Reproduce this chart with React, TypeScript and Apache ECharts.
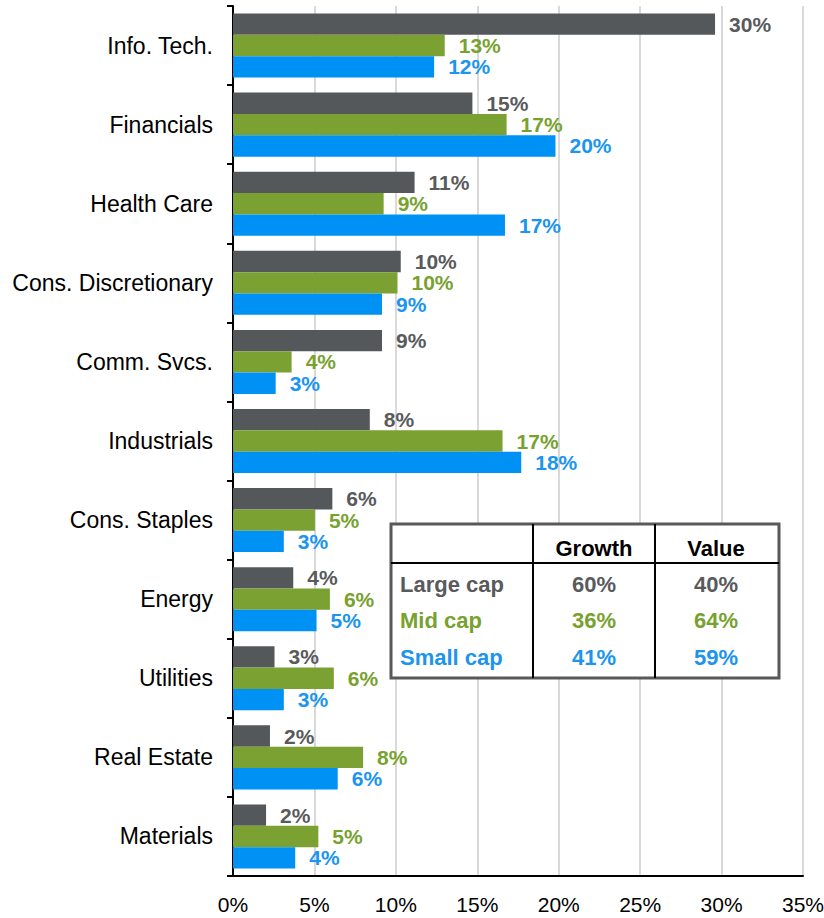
import React, { useEffect, useRef } from "react";
import * as echarts from "echarts";

const categories = [
  "Info. Tech.",
  "Financials",
  "Health Care",
  "Cons. Discretionary",
  "Comm. Svcs.",
  "Industrials",
  "Cons. Staples",
  "Energy",
  "Utilities",
  "Real Estate",
  "Materials",
];
const largeCap = [29.6, 14.7, 11.15, 10.3, 9.15, 8.4, 6.1, 3.7, 2.55, 2.27, 2.03];
const midCap = [13.0, 16.8, 9.25, 10.1, 3.6, 16.55, 5.03, 5.95, 6.19, 7.99, 5.24];
const smallCap = [12.35, 19.8, 16.7, 9.15, 2.62, 17.7, 3.12, 5.13, 3.12, 6.43, 3.82];
const xTicks = [0, 5, 10, 15, 20, 25, 30, 35];

const tableHeaders = ["Growth", "Value"];
const tableRows = ["Large cap", "Mid cap", "Small cap"];
const growthShare = ["60%", "36%", "41%"];
const valueShare = ["40%", "64%", "59%"];

const FONT = "'Liberation Sans', Arial, Helvetica, sans-serif";
const barColors = ["#55585B", "#7BA133", "#0091F5"];
const textColors = ["#595A5C", "#78A22F", "#1B95EE"];

export default function App() {
  const ref = useRef<HTMLDivElement>(null);
  useEffect(() => {
    if (!ref.current) return;
    const chart = echarts.init(ref.current, undefined, { renderer: "svg" });
    const seriesData = [largeCap, midCap, smallCap];
    const names = tableRows;

    const tableX = 391, tableY = 524, tableW = 388, tableH = 154;
    const col1 = 533, col2 = 655, headerLine = 563;
    const colCenters = [594, 716];
    const rowY0 = 584, rowStep = 36.5;

    const graphic: any[] = [
      {
        type: "rect",
        z: 100,
        shape: { x: tableX, y: tableY, width: tableW, height: tableH },
        style: { fill: "#ffffff", stroke: "#595959", lineWidth: 3 },
      },
      {
        type: "line",
        z: 101,
        shape: { x1: tableX, y1: headerLine, x2: tableX + tableW, y2: headerLine },
        style: { stroke: "#000", lineWidth: 2 },
      },
      {
        type: "line",
        z: 101,
        shape: { x1: col1, y1: tableY, x2: col1, y2: tableY + tableH },
        style: { stroke: "#000", lineWidth: 2 },
      },
      {
        type: "line",
        z: 101,
        shape: { x1: col2, y1: tableY, x2: col2, y2: tableY + tableH },
        style: { stroke: "#000", lineWidth: 2 },
      },
    ];
    tableHeaders.forEach((h, i) => {
      graphic.push({
        type: "text",
        z: 102,
        x: colCenters[i],
        y: 548,
        style: {
          text: h,
          fill: "#000",
          font: `bold 22px ${FONT}`,
          textAlign: "center",
          textVerticalAlign: "middle",
          verticalAlign: "middle",
        },
      });
    });
    tableRows.forEach((r, i) => {
      const y = rowY0 + i * rowStep;
      const cells = [
        { text: r, x: 400, align: "left" },
        { text: growthShare[i], x: colCenters[0], align: "center" },
        { text: valueShare[i], x: colCenters[1], align: "center" },
      ];
      cells.forEach((c) => {
        graphic.push({
          type: "text",
          z: 102,
          x: c.x,
          y,
          style: {
            text: c.text,
            fill: textColors[i],
            font: `bold 22px ${FONT}`,
            textAlign: c.align,
            textVerticalAlign: "middle",
            verticalAlign: "middle",
          },
        });
      });
    });

    chart.setOption({
      animation: false,
      backgroundColor: "#ffffff",
      grid: {
        left: 233,
        right: 21,
        top: 6,
        bottom: 42,
        containLabel: false,
        outerBoundsMode: "none",
      },
      xAxis: {
        type: "value",
        min: xTicks[0],
        max: xTicks[xTicks.length - 1],
        interval: xTicks[1] - xTicks[0],
        axisLine: { show: true, lineStyle: { color: "#000", width: 2 } },
        axisTick: { show: false },
        splitLine: { show: true, lineStyle: { color: "#D9D9D9", width: 2 } },
        axisLabel: {
          formatter: "{value}%",
          color: "#000",
          fontSize: 21,
          fontFamily: FONT,
          margin: 18,
        },
      },
      yAxis: {
        type: "category",
        inverse: true,
        data: categories,
        axisLine: { show: true, lineStyle: { color: "#000", width: 2 } },
        axisTick: { show: true, length: 6, lineStyle: { color: "#000", width: 2 } },
        splitLine: { show: false },
        axisLabel: {
          color: "#000",
          fontSize: 23,
          fontFamily: FONT,
          margin: 20,
        },
      },
      series: seriesData.map((d, i) => ({
        type: "bar",
        name: names[i],
        data: d,
        barGap: "0%",
        barCategoryGap: "19%",
        itemStyle: { color: barColors[i] },
        label: {
          show: true,
          position: "right",
          distance: 14,
          color: textColors[i],
          fontSize: 21,
          fontWeight: "bold",
          fontFamily: FONT,
          formatter: (p: any) => Math.round(p.value) + "%",
        },
      })),
      graphic,
    });
    return () => chart.dispose();
  }, []);
  return (
    <div
      ref={ref}
      style={{ position: "fixed", left: 0, top: 0, width: 824, height: 918 }}
    />
  );
}
